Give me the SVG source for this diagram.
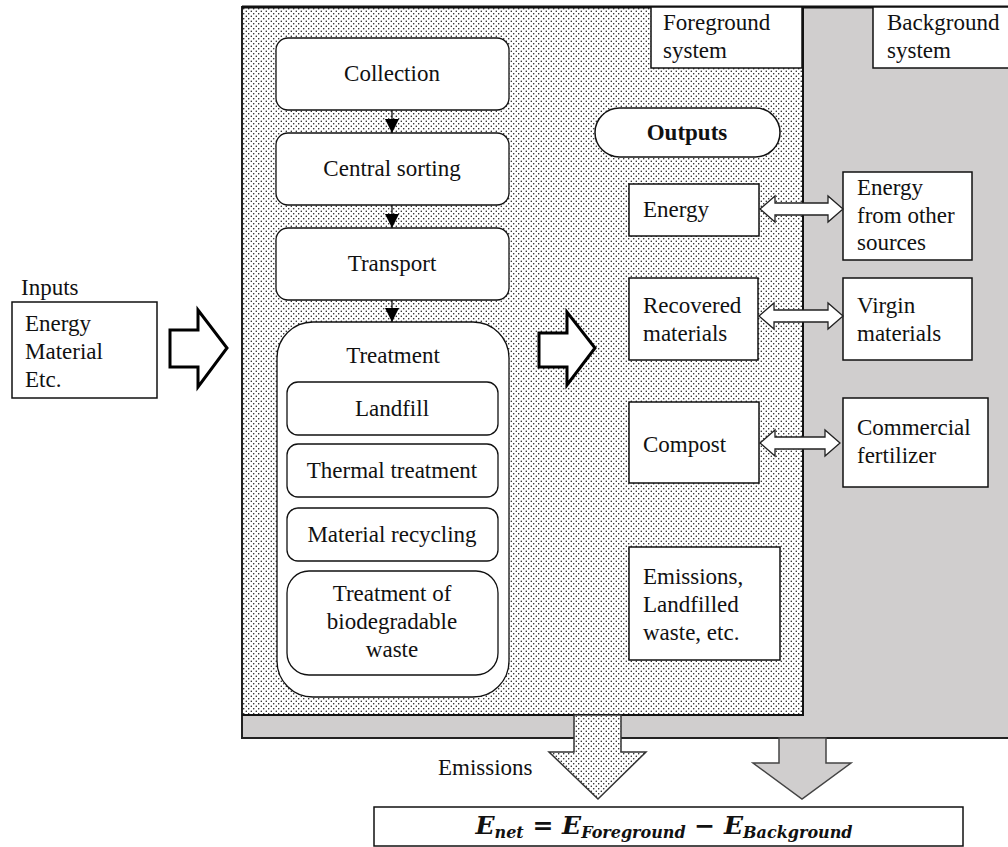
<svg xmlns="http://www.w3.org/2000/svg" width="1008" height="847" viewBox="0 0 1008 847">
<style>
text{font-family:"Liberation Serif","Tinos","Times New Roman","DejaVu Serif",serif;font-size:23px;fill:#111}
.c{text-anchor:middle}
.box{fill:#fff;stroke:#111;stroke-width:1.5}
.rbox{fill:#fff;stroke:#111;stroke-width:1.3}
.line{stroke:#111;stroke-width:1.3;fill:none}
.blk{fill:#fff;stroke:#000;stroke-width:3;stroke-linejoin:miter}
.dbl{fill:#fff;stroke:#222;stroke-width:1.3}
.eq{font-family:"DejaVu Serif",serif;font-weight:bold;font-style:italic}
</style>
<defs>
<pattern id="dots" width="5" height="5" patternUnits="userSpaceOnUse">
<rect width="5" height="5" fill="#fff"/>
<circle cx="1.25" cy="1.25" r="0.7" fill="#000"/>
<circle cx="3.75" cy="3.75" r="0.7" fill="#000"/>
</pattern>
<marker id="ah" markerWidth="14" markerHeight="14" refX="14" refY="7" orient="auto" markerUnits="userSpaceOnUse">
<path d="M0,0 L14,7 L0,14 Z" fill="#000"/>
</marker>
</defs>
<rect width="1008" height="847" fill="#fff"/>
<g id="frame">
<rect x="242" y="7" width="780" height="731" fill="#d0cece" stroke="#222" stroke-width="2"/>
<rect x="243" y="8" width="560" height="707" fill="url(#dots)"/>
<line x1="803" y1="7" x2="803" y2="715" stroke="#111" stroke-width="2"/>
<line x1="242" y1="715" x2="804" y2="715" stroke="#111" stroke-width="2"/>
<line x1="242" y1="7" x2="1008" y2="7" stroke="#111" stroke-width="3"/>
</g>
<g id="fg-label"><rect class="box" x="651" y="7" width="151" height="61"/><text x="663" y="30">Foreground</text><text x="663" y="58">system</text></g>
<g id="bg-label"><rect class="box" x="873" y="7" width="150" height="61"/><text x="887" y="30">Background</text><text x="887" y="58">system</text></g>
<g id="collection"><rect class="rbox" x="276" y="38" width="233" height="72" rx="12"/><text class="c" x="392" y="81">Collection</text></g>
<g id="sorting"><rect class="rbox" x="276" y="133" width="233" height="72" rx="12"/><text class="c" x="392" y="176">Central sorting</text></g>
<g id="transport"><rect class="rbox" x="276" y="228" width="233" height="72" rx="12"/><text class="c" x="392" y="271">Transport</text></g>
<g id="treatment">
<rect class="rbox" x="277" y="322" width="232" height="375" rx="36"/>
<text class="c" x="393" y="363">Treatment</text>
</g>
<g id="landfill"><rect class="rbox" x="287" y="382" width="211" height="53" rx="11"/><text class="c" x="392" y="416">Landfill</text></g>
<g id="thermal"><rect class="rbox" x="287" y="444" width="211" height="53" rx="11"/><text class="c" x="392" y="478">Thermal treatment</text></g>
<g id="recycling"><rect class="rbox" x="287" y="508" width="211" height="53" rx="11"/><text class="c" x="392" y="542">Material recycling</text></g>
<g id="biodeg"><rect class="rbox" x="287" y="571" width="211" height="104" rx="22"/><text class="c" x="392" y="601">Treatment of</text><text class="c" x="392" y="629">biodegradable</text><text class="c" x="392" y="657">waste</text></g>
<g id="inputs"><text x="21" y="295">Inputs</text><rect class="box" x="12" y="302" width="145" height="96"/><text x="25" y="331">Energy</text><text x="25" y="359">Material</text><text x="25" y="387">Etc.</text></g>
<g id="outputs"><rect class="box" x="595" y="108" width="185" height="49" rx="24.5"/><text class="c" x="687" y="140" font-weight="bold">Outputs</text></g>
<g id="energy"><rect class="box" x="629" y="184" width="130" height="52"/><text x="643" y="217">Energy</text></g>
<g id="recovered"><rect class="box" x="629" y="278" width="129" height="82"/><text x="643" y="313">Recovered</text><text x="643" y="341">materials</text></g>
<g id="compost"><rect class="box" x="629" y="402" width="130" height="81"/><text x="643" y="452">Compost</text></g>
<g id="emis-box"><rect class="box" x="629" y="547" width="151" height="113"/><text x="643" y="584">Emissions,</text><text x="643" y="612">Landfilled</text><text x="643" y="640">waste, etc.</text></g>
<g id="energy-other"><rect class="box" x="843" y="172" width="129" height="88"/><text x="857" y="195">Energy</text><text x="857" y="223">from other</text><text x="857" y="250">sources</text></g>
<g id="virgin"><rect class="box" x="843" y="278" width="129" height="82"/><text x="857" y="313">Virgin</text><text x="857" y="341">materials</text></g>
<g id="fertilizer"><rect class="box" x="843" y="398" width="145" height="89"/><text x="857" y="435">Commercial</text><text x="857" y="463">fertilizer</text></g>
<g id="equation"><rect class="box" x="374" y="807" width="589" height="39"/>
<text class="eq" x="664" y="834" text-anchor="middle"><tspan font-size="25">E</tspan><tspan font-size="16" dy="4">net</tspan><tspan font-size="25" dy="-4" font-style="normal"> = </tspan><tspan font-size="25">E</tspan><tspan font-size="16" dy="4">Foreground</tspan><tspan font-size="25" dy="-4" font-style="normal"> − </tspan><tspan font-size="25">E</tspan><tspan font-size="16" dy="4">Background</tspan></text>
</g>
<g id="emissions-label"><text x="438" y="775">Emissions</text></g>
<g id="connectors">
<line class="line" x1="392" y1="110" x2="392" y2="133" marker-end="url(#ah)"/>
<line class="line" x1="392" y1="205" x2="392" y2="228" marker-end="url(#ah)"/>
<line class="line" x1="392" y1="300" x2="392" y2="322" marker-end="url(#ah)"/>
<polygon class="blk" points="170,330 198,330 198,310 227,348 198,387 198,367 170,367"/>
<polygon class="blk" points="539,333 567,333 567,312 595,348 567,385 567,367 539,367"/>
<polygon class="dbl" points="760,209 775,196 775,203 828,203 828,196 843,209 828,222 828,215 775,215 775,222"/>
<polygon class="dbl" points="759,316 774,303 774,310 828,310 828,303 843,316 828,329 828,322 774,322 774,329"/>
<polygon class="dbl" points="760,443 775,430 775,437 825,437 825,430 840,443 825,456 825,449 775,449 775,456"/>
<polygon points="574,715 621,715 621,752 646,752 598,799 549,752 574,752" fill="url(#dots)" stroke="#333" stroke-width="1.5"/>
<polygon points="779,738 826,738 826,763 851,763 802,799 753,763 779,763" fill="#d0cece" stroke="#444" stroke-width="1.5"/>
</g>
</svg>
